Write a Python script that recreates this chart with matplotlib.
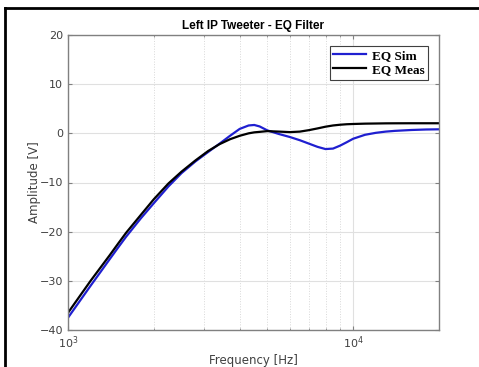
import matplotlib
matplotlib.use("Agg")
import matplotlib.pyplot as plt
from matplotlib.lines import Line2D
from matplotlib.ticker import LogLocator, NullFormatter

# frequencies [Hz] and amplitudes
freq = [1000, 1100, 1200, 1300, 1400, 1500, 1600, 1800, 2000, 2250, 2500, 2800,
        3100, 3400, 3700, 4000, 4300, 4500, 4700, 5000, 5500, 6000, 6500, 7000,
        7500, 8000, 8500, 9000, 9500, 10000, 11000, 12000, 13000, 14000, 16000,
        18000, 20000]
eq_sim = [-37.5, -34.1, -31.0, -28.2, -25.6, -23.2, -21.0, -17.3, -14.2, -10.8, -8.1, -5.7,
          -3.8, -2.1, -0.5, 0.9, 1.6, 1.7, 1.4, 0.6, -0.15, -0.75, -1.4, -2.1,
          -2.75, -3.2, -3.1, -2.5, -1.8, -1.1, -0.3, 0.1, 0.35, 0.5, 0.68,
          0.78, 0.82]
eq_meas = [-36.5, -33.1, -30.0, -27.3, -24.8, -22.4, -20.2, -16.6, -13.4, -10.2, -7.8, -5.5,
           -3.6, -2.2, -1.2, -0.5, 0.0, 0.2, 0.3, 0.45, 0.35, 0.25, 0.35, 0.65,
           1.0, 1.35, 1.6, 1.75, 1.85, 1.9, 1.97, 2.0, 2.03, 2.04, 2.05,
           2.05, 2.05]

axis_col = "#808080"
text_col = "#404040"

fig = plt.figure(figsize=(4.79, 3.67), dpi=100)
ax = fig.add_axes([68 / 479, 1 - 330 / 367, (439 - 68) / 479, (330 - 35) / 367])

ax.plot(freq, eq_sim, color="#1f1fd0", lw=1.6, label="EQ Sim")
ax.plot(freq, eq_meas, color="black", lw=1.6, label="EQ Meas")

ax.set_xscale("log")
ax.set_xlim(1000, 20000)
ax.set_ylim(-40, 20)
ax.set_yticks([-40, -30, -20, -10, 0, 10, 20])
ax.xaxis.set_minor_locator(LogLocator(base=10, subs=range(2, 10)))
ax.xaxis.set_minor_formatter(NullFormatter())

ax.grid(True, which="major", color="#e0e0e0", lw=0.8, ls="-")
ax.grid(True, which="minor", axis="x", color="#d8d8d8", lw=0.7, ls=":")
ax.set_axisbelow(True)

for sp in ax.spines.values():
    sp.set_color(axis_col)
    sp.set_linewidth(1.0)
ax.tick_params(which="both", direction="in", top=True, right=True,
               colors=axis_col, labelcolor=text_col, labelsize=8)
ax.tick_params(which="major", length=3)
ax.tick_params(which="minor", length=1.5)

ax.set_title("Left IP Tweeter - EQ Filter", fontsize=8.5, fontweight="bold",
             family="Liberation Sans", pad=4)
ax.set_xlabel("Frequency [Hz]", fontsize=8.5, color=text_col, labelpad=2)
ax.set_ylabel("Amplitude [V]", fontsize=8.5, color=text_col, labelpad=-1)

leg = ax.legend(loc="upper right", fancybox=False, framealpha=1, edgecolor="#404040",
                prop={"family": "Liberation Serif", "weight": "bold", "size": 9.5},
                handlelength=2.5, borderpad=0.3, labelspacing=0.15,
                borderaxespad=0.8, handletextpad=0.4)
leg.get_frame().set_linewidth(0.8)

# black frame lines on the left and top of the image
fig.add_artist(Line2D([5 / 479, 5 / 479], [0, 1 - 8 / 367], color="black", lw=2,
                      transform=fig.transFigure))
fig.add_artist(Line2D([5 / 479, 1], [1 - 8 / 367, 1 - 8 / 367], color="black", lw=2,
                      transform=fig.transFigure))

fig.savefig("out.png", dpi=100)
